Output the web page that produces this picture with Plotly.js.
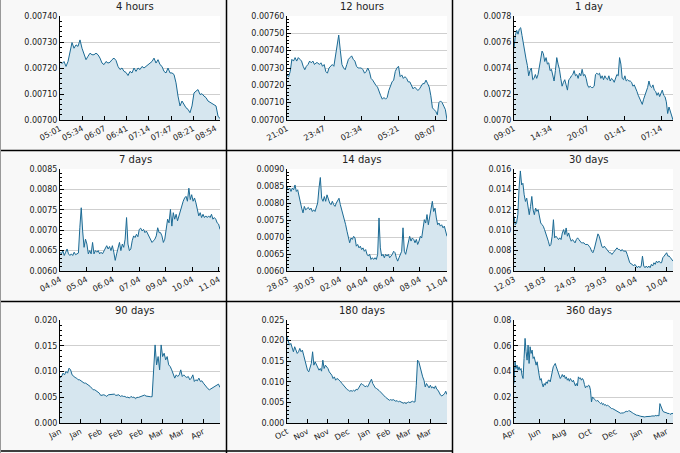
<!DOCTYPE html>
<html>
<head>
<meta charset="utf-8">
<script src="https://cdn.plot.ly/plotly-3.0.1.min.js"></script>
<style>
html, body { margin: 0; padding: 0; background: #f8f8f8; }
#chart { width: 680px; height: 453px; }
</style>
</head>
<body>
<div id="chart"></div>
<script>
// values, evenly spaced over each window
var h4 = [0.007225,0.007217,0.007225,0.007206,0.007225,0.007257,0.007298,0.007276,0.007289,0.007283,0.007308,0.007276,0.007257,0.007232,0.007245,0.007257,0.007251,0.007251,0.007257,0.007251,0.007238,0.007219,0.007213,0.007225,0.007219,0.007222,0.007232,0.007238,0.007229,0.007206,0.007194,0.007200,0.007187,0.007183,0.007171,0.007187,0.007181,0.007200,0.007187,0.007200,0.007194,0.007206,0.007200,0.007206,0.007213,0.007219,0.007225,0.007238,0.007219,0.007232,0.007213,0.007206,0.007187,0.007181,0.007200,0.007181,0.007181,0.007175,0.007143,0.007092,0.007054,0.007073,0.007060,0.007047,0.007041,0.007028,0.007054,0.007104,0.007111,0.007117,0.007098,0.007101,0.007092,0.007086,0.007073,0.007069,0.007064,0.007060,0.007054,0.007015,0.007005];

var h12 = [0.00726,0.00725,0.00728,0.00735,0.00734,0.00736,0.00734,0.00736,0.00735,0.00734,0.00731,0.00729,0.00731,0.00732,0.00734,0.00733,0.00734,0.00732,0.00733,0.00733,0.00732,0.00733,0.00731,0.00732,0.00728,0.00727,0.00730,0.00731,0.00732,0.00731,0.00738,0.00744,0.00749,0.00740,0.00732,0.00730,0.00729,0.00732,0.00735,0.00736,0.00737,0.00735,0.00734,0.00731,0.00730,0.00730,0.00730,0.00729,0.00727,0.00728,0.00730,0.00728,0.00724,0.00723,0.00721,0.00720,0.00719,0.00716,0.00714,0.00712,0.00713,0.00712,0.00713,0.00717,0.00720,0.00722,0.00723,0.00728,0.00730,0.00731,0.00725,0.00726,0.00724,0.00725,0.00724,0.00722,0.00722,0.00720,0.00718,0.00719,0.00718,0.00717,0.00718,0.00720,0.00721,0.00721,0.00723,0.00721,0.00719,0.00714,0.00707,0.00706,0.00705,0.00703,0.00710,0.00711,0.00710,0.00708,0.00706,0.00700];

var d1 = [0.00755,0.00765,0.00769,0.00766,0.00770,0.00771,0.00765,0.00758,0.00751,0.00747,0.00742,0.00734,0.00738,0.00740,0.00731,0.00732,0.00735,0.00732,0.00735,0.00742,0.00748,0.00753,0.00751,0.00745,0.00748,0.00743,0.00744,0.00738,0.00739,0.00734,0.00730,0.00738,0.00748,0.00743,0.00739,0.00732,0.00726,0.00729,0.00731,0.00727,0.00723,0.00731,0.00732,0.00734,0.00735,0.00738,0.00734,0.00735,0.00732,0.00736,0.00734,0.00739,0.00734,0.00735,0.00732,0.00727,0.00725,0.00726,0.00725,0.00725,0.00726,0.00735,0.00736,0.00735,0.00736,0.00732,0.00734,0.00731,0.00734,0.00732,0.00731,0.00734,0.00730,0.00732,0.00731,0.00729,0.00732,0.00735,0.00734,0.00748,0.00743,0.00732,0.00731,0.00734,0.00730,0.00731,0.00730,0.00730,0.00729,0.00726,0.00727,0.00725,0.00722,0.00719,0.00717,0.00714,0.00712,0.00716,0.00719,0.00723,0.00725,0.00730,0.00726,0.00725,0.00727,0.00723,0.00722,0.00719,0.00721,0.00718,0.00721,0.00723,0.00719,0.00718,0.00714,0.00705,0.00710,0.00706,0.00704,0.00700];

var d7 = [0.00646,0.00642,0.00650,0.00638,0.00646,0.00654,0.00642,0.00638,0.00642,0.00638,0.00646,0.00640,0.00642,0.00644,0.00706,0.00755,0.00698,0.00658,0.00678,0.00666,0.00642,0.00650,0.00642,0.00670,0.00642,0.00650,0.00646,0.00650,0.00642,0.00646,0.00642,0.00650,0.00658,0.00662,0.00654,0.00660,0.00650,0.00662,0.00646,0.00626,0.00642,0.00654,0.00670,0.00650,0.00666,0.00658,0.00678,0.00731,0.00666,0.00650,0.00654,0.00674,0.00686,0.00682,0.00690,0.00684,0.00702,0.00705,0.00698,0.00702,0.00694,0.00698,0.00690,0.00686,0.00674,0.00670,0.00674,0.00678,0.00686,0.00706,0.00694,0.00694,0.00686,0.00670,0.00678,0.00706,0.00727,0.00718,0.00751,0.00710,0.00743,0.00727,0.00739,0.00723,0.00735,0.00751,0.00759,0.00771,0.00779,0.00783,0.00771,0.00803,0.00775,0.00787,0.00771,0.00779,0.00767,0.00751,0.00735,0.00743,0.00731,0.00739,0.00731,0.00735,0.00731,0.00735,0.00731,0.00739,0.00727,0.00731,0.00727,0.00718,0.00715,0.00702];

var d14 = [0.00849,0.00839,0.00844,0.00834,0.00844,0.00839,0.00853,0.00834,0.00839,0.00819,0.00800,0.00785,0.00771,0.00790,0.00780,0.00785,0.00787,0.00780,0.00785,0.00775,0.00780,0.00775,0.00785,0.00800,0.00844,0.00875,0.00814,0.00805,0.00819,0.00805,0.00824,0.00810,0.00800,0.00795,0.00805,0.00795,0.00790,0.00800,0.00810,0.00814,0.00795,0.00780,0.00771,0.00756,0.00736,0.00717,0.00697,0.00683,0.00697,0.00693,0.00702,0.00697,0.00673,0.00678,0.00668,0.00673,0.00663,0.00668,0.00658,0.00663,0.00649,0.00644,0.00649,0.00634,0.00639,0.00634,0.00639,0.00634,0.00649,0.00756,0.00668,0.00644,0.00649,0.00639,0.00649,0.00644,0.00649,0.00639,0.00644,0.00649,0.00658,0.00654,0.00639,0.00629,0.00639,0.00649,0.00658,0.00727,0.00658,0.00649,0.00668,0.00683,0.00702,0.00688,0.00697,0.00693,0.00683,0.00693,0.00678,0.00688,0.00702,0.00697,0.00727,0.00751,0.00741,0.00766,0.00736,0.00761,0.00780,0.00805,0.00775,0.00785,0.00756,0.00736,0.00741,0.00732,0.00736,0.00727,0.00732,0.00717,0.00702];

var d30 = [0.01136,0.01055,0.01071,0.01152,0.01412,0.01581,0.01444,0.01460,0.01347,0.01282,0.01314,0.01217,0.01152,0.01233,0.01331,0.01201,0.01152,0.01217,0.01185,0.01201,0.01136,0.01071,0.01055,0.01039,0.01006,0.00973,0.00941,0.00892,0.00844,0.00860,0.00941,0.01103,0.00925,0.00941,0.00925,0.00908,0.00925,0.00908,0.00973,0.01006,0.00957,0.01022,0.00941,0.00973,0.00925,0.00892,0.00908,0.00892,0.00876,0.00908,0.00925,0.00908,0.00892,0.00876,0.00876,0.00876,0.00860,0.00860,0.00860,0.00844,0.00827,0.00795,0.00779,0.00811,0.00860,0.00892,0.00964,0.00941,0.00876,0.00844,0.00827,0.00844,0.00827,0.00811,0.00795,0.00779,0.00779,0.00762,0.00779,0.00795,0.00811,0.00827,0.00811,0.00811,0.00795,0.00811,0.00795,0.00795,0.00795,0.00762,0.00714,0.00681,0.00671,0.00665,0.00649,0.00665,0.00649,0.00632,0.00649,0.00632,0.00649,0.00746,0.00649,0.00632,0.00649,0.00632,0.00649,0.00632,0.00665,0.00649,0.00681,0.00665,0.00697,0.00681,0.00697,0.00681,0.00681,0.00730,0.00746,0.00762,0.00779,0.00746,0.00746,0.00730,0.00714,0.00697];

var d90 = [0.00871,0.00903,0.00968,0.00935,0.01000,0.00968,0.01065,0.01032,0.00935,0.00903,0.00884,0.00871,0.00839,0.00839,0.00819,0.00806,0.00774,0.00774,0.00755,0.00729,0.00710,0.00677,0.00645,0.00645,0.00626,0.00613,0.00581,0.00535,0.00548,0.00548,0.00535,0.00516,0.00548,0.00548,0.00561,0.00548,0.00561,0.00535,0.00535,0.00548,0.00516,0.00529,0.00516,0.00516,0.00497,0.00503,0.00484,0.00516,0.00497,0.00503,0.00471,0.00497,0.00497,0.00510,0.00523,0.00535,0.00542,0.00523,0.00516,0.00523,0.00510,0.00510,0.00935,0.01516,0.01129,0.01290,0.01032,0.01516,0.01290,0.01355,0.01226,0.01290,0.01129,0.01097,0.01032,0.00968,0.00871,0.00935,0.00903,0.00935,0.01032,0.00903,0.00935,0.00903,0.00884,0.00903,0.00839,0.00871,0.00935,0.00806,0.00839,0.00819,0.00871,0.00806,0.00819,0.00774,0.00729,0.00690,0.00665,0.00645,0.00665,0.00677,0.00690,0.00710,0.00729,0.00755,0.00690];

var d180 = [0.02094,0.01972,0.01891,0.01932,0.01810,0.01729,0.01851,0.01769,0.01688,0.01729,0.01810,0.01729,0.01769,0.01648,0.01526,0.01445,0.01282,0.01242,0.01323,0.01445,0.01729,0.01404,0.01485,0.01404,0.01323,0.01282,0.01323,0.01258,0.01526,0.01323,0.01404,0.01364,0.01323,0.01242,0.01201,0.01161,0.01080,0.01120,0.01039,0.01080,0.01063,0.01039,0.00998,0.00958,0.00917,0.00877,0.00836,0.00812,0.00795,0.00771,0.00787,0.00771,0.00795,0.00771,0.00820,0.00804,0.00852,0.00901,0.00958,0.00933,0.00917,0.00877,0.00901,0.00877,0.00933,0.00998,0.01063,0.00958,0.00901,0.00852,0.00836,0.00820,0.00787,0.00755,0.00714,0.00674,0.00657,0.00625,0.00593,0.00576,0.00552,0.00568,0.00552,0.00568,0.00544,0.00528,0.00544,0.00511,0.00528,0.00511,0.00495,0.00479,0.00495,0.00471,0.00495,0.00511,0.00495,0.00511,0.00528,0.00511,0.00511,0.00917,0.01526,0.01485,0.01364,0.01201,0.01120,0.01039,0.00877,0.00958,0.00901,0.00852,0.00917,0.00852,0.00877,0.00836,0.00901,0.00820,0.00795,0.00739,0.00674,0.00657,0.00690,0.00706,0.00771,0.00690];

var d360 = [0.03065,0.04753,0.04234,0.04494,0.04104,0.04364,0.04104,0.04234,0.03714,0.03455,0.05013,0.06571,0.05532,0.04883,0.06052,0.04623,0.05922,0.05403,0.05662,0.05013,0.05143,0.04883,0.04494,0.04753,0.04104,0.03714,0.03325,0.03455,0.03065,0.02805,0.03065,0.02935,0.03195,0.03065,0.03325,0.03325,0.03195,0.03584,0.04104,0.04364,0.04494,0.04623,0.04364,0.04104,0.03844,0.03584,0.03455,0.03584,0.03766,0.03584,0.03714,0.03455,0.03584,0.03325,0.03455,0.03247,0.03455,0.03325,0.03195,0.03325,0.02987,0.02883,0.03065,0.02883,0.03584,0.03455,0.03506,0.03325,0.03455,0.03325,0.02987,0.02727,0.02857,0.02805,0.02935,0.02883,0.02545,0.01636,0.02026,0.01896,0.01844,0.01766,0.01688,0.01766,0.01636,0.01584,0.01506,0.01584,0.01429,0.01506,0.01377,0.01429,0.01325,0.01377,0.01325,0.01247,0.01221,0.01117,0.01117,0.01065,0.01013,0.00987,0.00909,0.00857,0.00805,0.00779,0.00753,0.00779,0.00753,0.00779,0.00857,0.00909,0.00909,0.00883,0.00961,0.00935,0.00857,0.00805,0.00779,0.00727,0.00675,0.00649,0.00597,0.00597,0.00545,0.00545,0.00519,0.00494,0.00519,0.00494,0.00468,0.00494,0.00494,0.00468,0.00494,0.00494,0.00519,0.00545,0.00545,0.00519,0.00545,0.00597,0.00545,0.00597,0.00545,0.01506,0.01247,0.00987,0.00909,0.00857,0.00857,0.00805,0.00779,0.00727,0.00753,0.00675,0.00701,0.00753,0.00727];

var titles = ['4 hours', '12 hours', '1 day', '7 days', '14 days', '30 days', '90 days', '180 days', '360 days'];

// window length and tick step, in minutes / minutes / minutes / hours / hours / days / days / days / days
var spans = [240, 720, 1440, 168, 336, 30, 90, 180, 360];
var tickSteps = [33.3, 166.5, 333.25, 27.8, 55.8, 5.75, 11.5, 23, 57.6];

var tickLabels = [
    ['05:01', '05:34', '06:07', '06:41', '07:14', '07:47', '08:21', '08:54'],
    ['21:01', '23:47', '02:34', '05:21', '08:07'],
    ['09:01', '14:34', '20:07', '01:41', '07:14'],
    ['04.04', '05.04', '06.04', '07.04', '09.04', '10.04', '11.04'],
    ['28.03', '30.03', '02.04', '04.04', '06.04', '08.04', '11.04'],
    ['12.03', '18.03', '24.03', '29.03', '04.04', '10.04'],
    ['Jan', 'Jan', 'Feb', 'Feb', 'Feb', 'Mar', 'Mar', 'Apr'],
    ['Oct', 'Nov', 'Nov', 'Dec', 'Jan', 'Feb', 'Mar', 'Mar'],
    ['Apr', 'Jun', 'Aug', 'Oct', 'Dec', 'Jan', 'Mar']
];

var yMin = [0.00700, 0.00700, 0.0070, 0.0060, 0.0060, 0.006, 0, 0, 0];
var yMax = [0.00740, 0.00760, 0.0078, 0.0085, 0.0090, 0.016, 0.020, 0.025, 0.08];
var yStep = [0.0001, 0.0001, 0.0002, 0.0005, 0.0005, 0.002, 0.005, 0.005, 0.02];
var yFormat = ['.5f', '.5f', '.4f', '.4f', '.4f', '.3f', '.3f', '.3f', '.2f'];

var series = [h4, h12, d1, d7, d14, d30, d90, d180, d360];

// --- layout ---
var W = 680, H = 453;
var colsPx = [[60, 220], [287, 447], [514, 673]];
var rowsPx = [[16, 120], [169, 271], [320, 423]];
var titleY = [7, 159, 310];
var font = 'DejaVu Sans, sans-serif';

var data = [];
var layout = {
    width: W, height: H,
    margin: {l: 0, r: 0, t: 0, b: 0},
    paper_bgcolor: '#f8f8f8',
    plot_bgcolor: '#ffffff',
    showlegend: false,
    font: {family: font, size: 8, color: '#1a1a1a'},
    annotations: [],
    shapes: []
};

for (var p = 0; p < 9; p++) {
    var vals = series[p];
    var xs = [];
    for (var i = 0; i < vals.length; i++) {
        xs.push(i * spans[p] / (vals.length - 1));
    }
    var tv = [];
    for (var k = 0; k < tickLabels[p].length; k++) tv.push(k * tickSteps[p]);

    var n = p === 0 ? '' : String(p + 1);
    data.push({
        x: xs, y: vals,
        xaxis: 'x' + n, yaxis: 'y' + n,
        type: 'scatter', mode: 'lines',
        line: {color: '#1b6a94', width: 1},
        fill: 'tozeroy', fillcolor: '#d6e6ef',
        hoverinfo: 'skip'
    });

    var c = colsPx[p % 3], r = rowsPx[Math.floor(p / 3)];
    layout['xaxis' + n] = {
        domain: [c[0] / W, c[1] / W],
        anchor: 'y' + n,
        range: [0, spans[p]],
        tickvals: tv, ticktext: tickLabels[p],
        tickangle: -28,
        ticks: 'inside', ticklen: 4, tickcolor: '#000',
        showline: true, linecolor: '#000', linewidth: 1,
        showgrid: false, zeroline: false,
        tickfont: {size: 8}
    };
    layout['yaxis' + n] = {
        domain: [1 - r[1] / H, 1 - r[0] / H],
        anchor: 'x' + n,
        range: [yMin[p], yMax[p]],
        dtick: yStep[p], tick0: yMin[p],
        tickformat: yFormat[p],
        ticks: 'inside', ticklen: 4, tickcolor: '#000',
        minor: {ticks: 'inside', ticklen: 2, tickcolor: '#000', dtick: yStep[p] / 5, showgrid: false},
        showline: true, linecolor: '#000', linewidth: 1,
        showgrid: true, gridcolor: '#cfcfcf', gridwidth: 1,
        zeroline: false,
        tickfont: {size: 8}
    };
    layout.annotations.push({
        text: titles[p],
        xref: 'paper', yref: 'paper',
        x: ((c[0] + c[1]) / 2 - 5) / W, y: 1 - titleY[Math.floor(p / 3)] / H,
        xanchor: 'center', yanchor: 'middle',
        showarrow: false,
        font: {family: font, size: 10, color: '#222', weight: 'normal'}
    });
}

// panel separators
var vx = [226.5, 452.5], hy = [150.5, 301.5];
vx.forEach(function (x) {
    layout.shapes.push({type: 'line', xref: 'paper', yref: 'paper', x0: x / W, x1: x / W, y0: 0, y1: 1,
        line: {color: '#000', width: 1.5}});
});
hy.forEach(function (y) {
    layout.shapes.push({type: 'line', xref: 'paper', yref: 'paper', x0: 0, x1: 1, y0: 1 - y / H, y1: 1 - y / H,
        line: {color: '#000', width: 1.5}});
});
layout.shapes.push({type: 'line', xref: 'paper', yref: 'paper', x0: 0, x1: 452.5 / W, y0: 1 - 451 / H, y1: 1 - 451 / H,
    line: {color: '#000', width: 1.5}});
layout.shapes.push({type: 'line', xref: 'paper', yref: 'paper', x0: 0.5 / W, x1: 0.5 / W, y0: 0, y1: 1,
    line: {color: '#999', width: 1}});

Plotly.newPlot('chart', data, layout, {staticPlot: true});
</script>
</body>
</html>
